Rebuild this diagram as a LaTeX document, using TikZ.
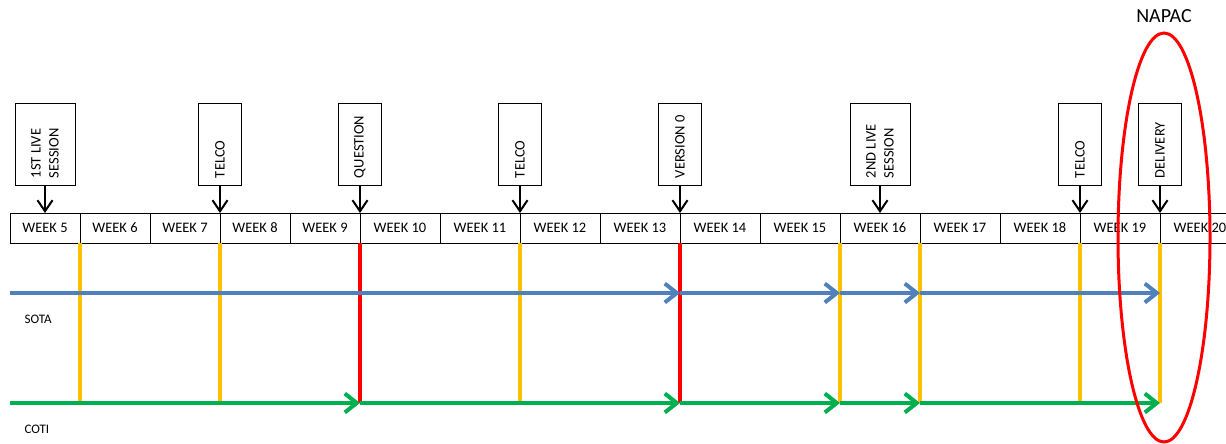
\documentclass[tikz,border=0pt]{standalone}
\usepackage{fontspec}
\usepackage{graphicx}
\setmainfont{Carlito}
\usetikzlibrary{arrows.meta,positioning}

\definecolor{sotablue}{RGB}{79,129,189}
\definecolor{cotigreen}{RGB}{0,176,80}
\definecolor{baramber}{RGB}{255,192,0}
\definecolor{barred}{RGB}{255,0,0}

\tikzset{
    week/.style={draw, line width=1pt, minimum height=30pt, inner sep=0pt, outer sep=0pt,
        font=\fontsize{14.5}{16}\selectfont},
    event/.style={draw, line width=1pt, minimum height=82pt, inner sep=0pt, outer sep=0pt,
        font=\fontsize{14.5}{18}\selectfont},
    pointer/.style={line width=2pt, -{Straight Barb[length=11pt,width=15pt]}},
    track/.style={line width=4pt, -{Straight Barb[length=12pt,width=19pt]}},
    bar/.style={line width=4pt},
}
\newcommand{\vlabel}[1]{\rotatebox{90}{\parbox{68pt}{\raggedright #1}}}

\begin{document}
\begin{tikzpicture}[x=1pt, y=-1pt]
        \useasboundingbox (0,0) rectangle (1226,444);
        \clip (0,0) rectangle (1226,444);

        % weeks
        \node[week, minimum width=70pt, anchor=west] (w5) at (10,228) {WEEK 5};
        \foreach \n [remember=\n as \p (initially 5)] in {6,...,9}
            \node[week, minimum width=70pt, right=0pt of w\p] (w\n) {WEEK \n};
        \foreach \n [remember=\n as \p (initially 9)] in {10,...,20}
            \node[week, minimum width=80pt, right=0pt of w\p] (w\n) {WEEK \n};

        % events
        \node[event, minimum width=60pt, above=28pt of w5.north] (live1) {\vlabel{1ST LIVE\\SESSION}};
        \node[event, minimum width=43pt, above=28pt of w7.north east] (telco1) {\vlabel{TELCO}};
        \node[event, minimum width=43pt, above=28pt of w9.north east] (question) {\vlabel{QUESTION}};
        \node[event, minimum width=43pt, above=28pt of w11.north east] (telco2) {\vlabel{TELCO}};
        \node[event, minimum width=43pt, above=28pt of w13.north east] (version) {\vlabel{VERSION 0}};
        \node[event, minimum width=60pt, above=28pt of w16.north] (live2) {\vlabel{2ND LIVE\\SESSION}};
        \node[event, minimum width=43pt, above=28pt of w18.north east] (telco3) {\vlabel{TELCO}};
        \node[event, minimum width=43pt, above=28pt of w19.north east] (delivery) {\vlabel{DELIVERY}};

        \draw[pointer] (live1.south) -- (w5.north);
        \draw[pointer] (telco1.south) -- (w7.north east);
        \draw[pointer] (question.south) -- (w9.north east);
        \draw[pointer] (telco2.south) -- (w11.north east);
        \draw[pointer] (version.south) -- (w13.north east);
        \draw[pointer] (live2.south) -- (w16.north);
        \draw[pointer] (telco3.south) -- (w18.north east);
        \draw[pointer] (delivery.south) -- (w19.north east);

        % tracks
        \coordinate (sota) at (10,293);
        \coordinate (coti) at (10,403);
        \node[anchor=west, font=\fontsize{13}{15}\selectfont] (sotalabel) at (21,319) {SOTA};
        \node[anchor=west, font=\fontsize{13}{15}\selectfont] (cotilabel) at (21,429) {COTI};

        \foreach \w/\c in {5/baramber,7/baramber,9/barred,11/baramber,13/barred,15/baramber,16/baramber,18/baramber,19/baramber}
            \draw[bar, \c] (w\w.south east) -- (w\w.south east |- coti);

        \draw[track, sotablue] (sota) -- (w13.south east |- sota);
        \draw[track, sotablue] (w13.south east |- sota) -- (w15.south east |- sota);
        \draw[track, sotablue] (w15.south east |- sota) -- (w16.south east |- sota);
        \draw[track, sotablue] (w16.south east |- sota) -- (w19.south east |- sota);

        \draw[track, cotigreen] (coti) -- (w9.south east |- coti);
        \draw[track, cotigreen] (w9.south east |- coti) -- (w13.south east |- coti);
        \draw[track, cotigreen] (w13.south east |- coti) -- (w15.south east |- coti);
        \draw[track, cotigreen] (w15.south east |- coti) -- (w16.south east |- coti);
        \draw[track, cotigreen] (w16.south east |- coti) -- (w19.south east |- coti);

        % napac
        \node[font=\fontsize{20}{22}\selectfont] (napac) at (1164,16) {NAPAC};
        \draw[barred, line width=3pt] (1164,237.5) ellipse [x radius=46, y radius=204.5];
    \end{tikzpicture}
\end{document}
